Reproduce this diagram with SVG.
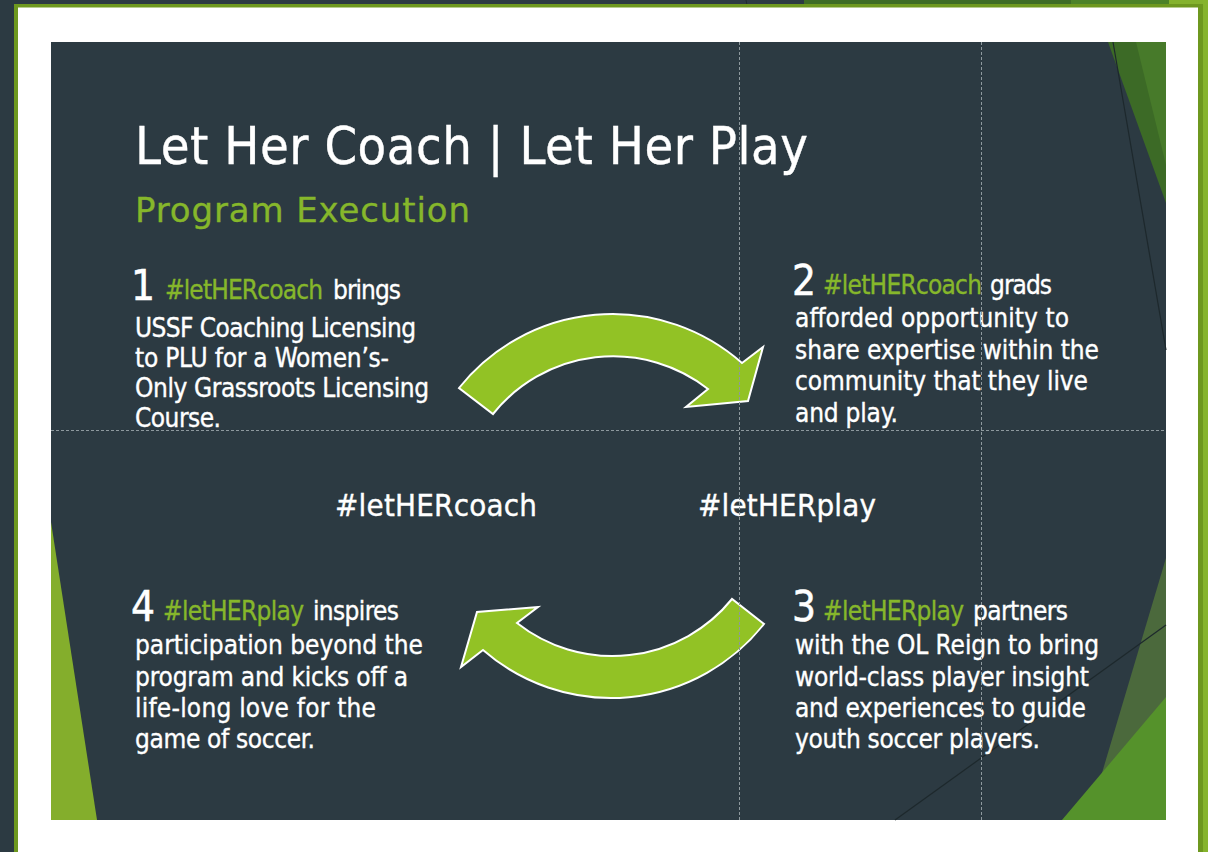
<svg xmlns="http://www.w3.org/2000/svg" width="1208" height="852" viewBox="0 0 1208 852">
<style>
.t{font-family:"DejaVu Sans Condensed","DejaVu Sans",sans-serif;font-stretch:condensed;fill:#ffffff;stroke:#ffffff;stroke-width:0.35}
.r{font-family:"DejaVu Sans",sans-serif;font-stretch:normal}
.b{font-size:26px}
.n{font-size:42px;stroke-width:0.5}
.g{fill:#86b72b;stroke:#86b72b}
.guide{stroke:#8e999e;stroke-width:1;stroke-dasharray:3 2;fill:none}
.arrow{fill:#92c225;stroke:#ffffff;stroke-width:2;stroke-linejoin:miter}
</style>
<!-- outer background -->
<rect x="0" y="0" width="1208" height="852" fill="#2c3a42"/>
<rect x="804" y="0" width="267" height="5" fill="#3e6c25"/>
<rect x="1071" y="0" width="98" height="5" fill="#4c8228"/>
<rect x="1169" y="0" width="39" height="5" fill="#84b22d"/>
<rect x="1203" y="0" width="5" height="852" fill="#86b42d"/>
<line x1="746" y1="0" x2="747" y2="5" stroke="#1e292e" stroke-width="1"/>
<!-- frame -->
<rect x="14" y="4" width="1189" height="860" fill="#6e981f"/>
<rect x="18" y="7.5" width="1180" height="860" fill="#ffffff"/>
<!-- slide -->
<g id="slide">
<rect x="51" y="42" width="1115" height="778" fill="#2c3a42"/>
<polygon points="1108,42 1166,42 1166,203" fill="#3c6a26"/>
<polygon points="1136,42 1166,42 1166,165" fill="#477a2a"/>
<line x1="1113" y1="42" x2="1166" y2="350" stroke="#1d282c" stroke-width="1.2"/>
<polygon points="1088,820 1166,558 1166,820" fill="#4b693c"/>
<polygon points="1062,820 1166,697 1166,820" fill="#55922b"/>
<line x1="895" y1="820" x2="1166" y2="625" stroke="#1d282c" stroke-width="1.2"/>
<polygon points="51,522 51,820 97,820" fill="#84ae2c"/>
</g>
<g id="title">
<text class="t" x="135" y="164" font-size="52" stroke-width="0.4" textLength="673">Let Her Coach | Let Her Play</text>
</g>
<g id="subtitle">
<text class="t r g" x="135" y="222" font-size="34" stroke-width="0.3" textLength="335">Program Execution</text>
</g>
<g id="step1">
<text class="t n" x="131" y="300">1</text>
<text class="t b g" x="165" y="299" textLength="158">#letHERcoach</text>
<text class="t b" x="333" y="299" textLength="68">brings</text>
<text class="t b" x="135" y="337" textLength="281">USSF Coaching Licensing</text>
<text class="t b" x="135" y="367" textLength="254">to PLU for a Women’s-</text>
<text class="t b" x="135" y="397" textLength="294">Only Grassroots Licensing</text>
<text class="t b" x="135" y="427" textLength="86">Course.</text>
</g>
<g id="step2">
<text class="t n" x="792" y="295">2</text>
<text class="t b g" x="823" y="294" textLength="159">#letHERcoach</text>
<text class="t b" x="990" y="294" textLength="62">grads</text>
<text class="t b" x="795" y="327" textLength="274">afforded opportunity to</text>
<text class="t b" x="795" y="358.5" textLength="304">share expertise within the</text>
<text class="t b" x="795" y="390" textLength="293">community that they live</text>
<text class="t b" x="795" y="421.5" textLength="103">and play.</text>
</g>
<g id="step3">
<text class="t n" x="792" y="621">3</text>
<text class="t b g" x="823" y="620" textLength="141">#letHERplay</text>
<text class="t b" x="973" y="620" textLength="95">partners</text>
<text class="t b" x="795" y="654" textLength="304">with the OL Reign to bring</text>
<text class="t b" x="795" y="686" textLength="294">world-class player insight</text>
<text class="t b" x="795" y="717" textLength="291">and experiences to guide</text>
<text class="t b" x="795" y="748" textLength="245">youth soccer players.</text>
</g>
<g id="step4">
<text class="t n" x="131" y="621">4</text>
<text class="t b g" x="163" y="620" textLength="141">#letHERplay</text>
<text class="t b" x="313" y="620" textLength="86">inspires</text>
<text class="t b" x="135" y="654" textLength="288">participation beyond the</text>
<text class="t b" x="135" y="686" textLength="273">program and kicks off a</text>
<text class="t b" x="135" y="717" textLength="241">life-long love for the</text>
<text class="t b" x="135" y="748" textLength="180">game of soccer.</text>
</g>
<g id="label-coach">
<text class="t" x="335" y="516" font-size="31" textLength="202">#letHERcoach</text>
</g>
<g id="label-play">
<text class="t" x="698" y="516" font-size="31" textLength="178">#letHERplay</text>
</g>
<g id="connectors">
<path class="arrow" d="M459,388 A196,196 0 0 1 742,363 L763,347 L748,401 L686,407 L708,389 A154,154 0 0 0 493,414 Z"/>
<path class="arrow" d="M732,599 A154,154 0 0 1 517,623 L538,607 L477,612 L461,667 L483,650 A195,195 0 0 0 764,624 Z"/>
</g>
<g id="guides">
<line class="guide" x1="51" y1="430.5" x2="1166" y2="430.5"/>
<line class="guide" x1="739.5" y1="42" x2="739.5" y2="820"/>
<line class="guide" x1="981.5" y1="42" x2="981.5" y2="820"/>
</g>
</svg>
